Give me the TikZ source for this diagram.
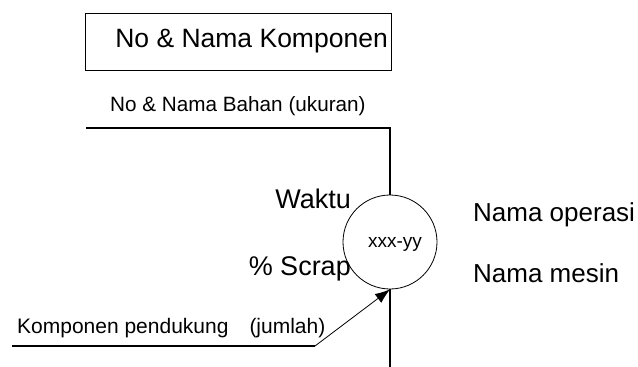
\documentclass[tikz,border=0pt]{standalone}
\usepackage{fontspec}
\setmainfont{Liberation Sans}
\usetikzlibrary{arrows.meta}

\def\fs#1{\fontsize{#1pt}{#1pt}\selectfont}

\begin{document}
\begin{tikzpicture}[x=1pt,y=-1pt,
    flow/.style={line width=1.1pt},
    opcircle/.style={draw, circle, line width=0.8pt, minimum size=94pt, inner sep=0pt},
    tag/.style={inner sep=0pt}]
  \useasboundingbox (0,0) rectangle (638,367);

  % component header
  \draw[line width=0.9pt] (85,13) rectangle (391,70);
  \node[tag, anchor=base east, font=\fs{26.5}] (komp) at (388,47) {No \& Nama Komponen};

  % material line into the operation
  \node[tag, anchor=base west, font=\fs{20.7}] (bahan) at (110,111) {No \& Nama Bahan (ukuran)};
  \coordinate (bahanstart) at (86,128);
  \coordinate (bahanturn) at (390,128);

  \node[opcircle] (op) at (390,242) {};
  \node[tag, anchor=base, font=\fs{19}] (kode) at (395,247) {xxx-yy};
  \draw[flow] (bahanstart) -- (bahanturn) -- (op.north);
  \coordinate (keluar) at (390,367);
  \draw[flow] (op.south) -- (keluar);

  % labels around the operation
  \node[tag, anchor=base east, font=\fs{27}] (waktu) at (351,208) {Waktu};
  \node[tag, anchor=base east, font=\fs{27}] (scrap) at (351,275) {\% Scrap};
  \node[tag, anchor=base west, font=\fs{26}] (operasi) at (473,221) {Nama operasi};
  \node[tag, anchor=base west, font=\fs{26}] (mesin) at (473,282) {Nama mesin};

  % supporting component
  \node[tag, anchor=base west, font=\fs{21}] (pendukung) at (17,333) {Komponen pendukung\ \ \ \,(jumlah)};
  \coordinate (dukungstart) at (12,346);
  \coordinate (dukungturn) at (315,346);
  \draw[flow] (dukungstart) -- (dukungturn);
  \draw[line width=0.8pt, -{Latex[length=15pt,width=11pt]}] (dukungturn) -- (op.south);
\end{tikzpicture}
\end{document}
